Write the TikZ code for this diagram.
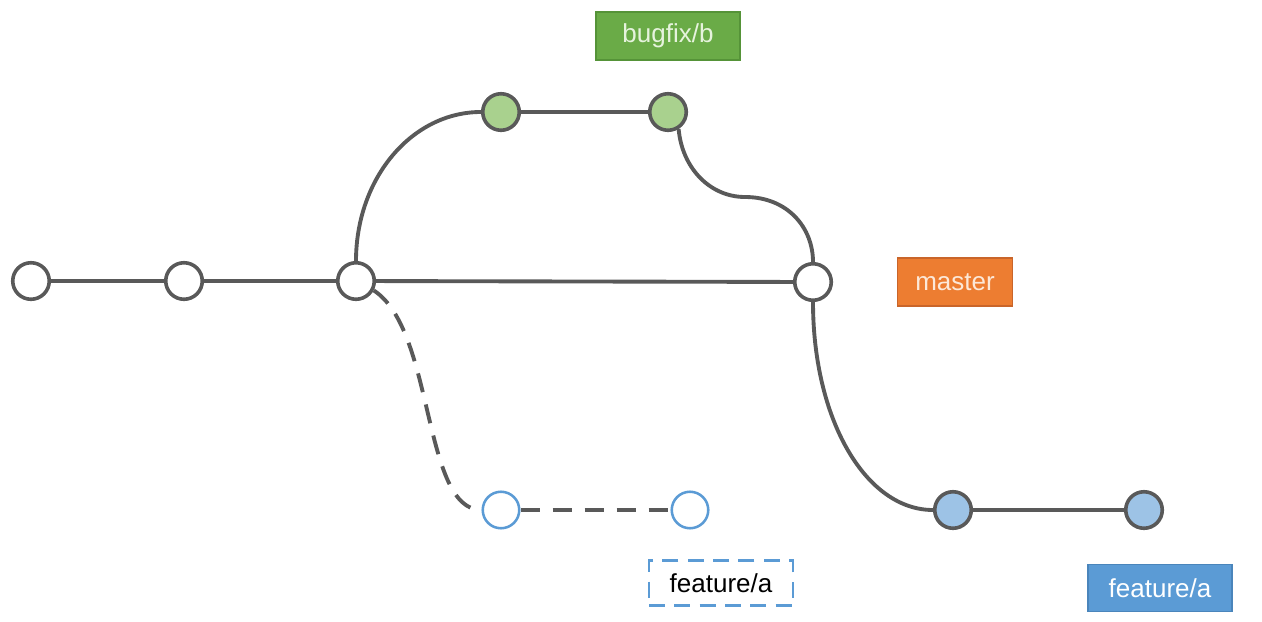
\documentclass[tikz,border=0pt]{standalone}
\usepackage{fontspec}
\setmainfont{Liberation Sans}
\definecolor{linegray}{HTML}{595959}
\definecolor{greenfill}{HTML}{A9D18E}
\definecolor{bluefill}{HTML}{9DC3E6}
\definecolor{blueline}{HTML}{5B9BD5}
\definecolor{greenlabel}{HTML}{6AAB47}
\definecolor{greenborder}{HTML}{559338}
\definecolor{orangelabel}{HTML}{ED7D31}
\definecolor{orangeborder}{HTML}{C9652A}
\definecolor{bluelabel}{HTML}{5B9BD5}
\definecolor{blueborder}{HTML}{4A85BB}
\definecolor{greentext}{HTML}{E6F3DD}
\definecolor{orangetext}{HTML}{FCE8D8}
\tikzset{
  commit/.style={circle, draw=linegray, line width=2.7pt, fill=white, minimum size=27.4pt, inner sep=0pt},
  greencommit/.style={commit, fill=greenfill},
  bluecommit/.style={commit, fill=bluefill},
  ghostcommit/.style={circle, draw=blueline, line width=1.9pt, fill=white, minimum size=27.4pt, inner sep=0pt},
  conn/.style={draw=linegray, line width=2.9pt},
  ghostconn/.style={draw=linegray, line width=2.9pt, dash pattern=on 14.5pt off 9.5pt},
  tag/.style={rectangle, inner sep=0pt, font=\fontsize{19.5}{23}\selectfont, line width=0.8pt},
}
\begin{document}
\begin{tikzpicture}[x=0.75pt, y=-0.75pt]
\useasboundingbox (0,0) rectangle (1262,621);
% commits
\node[commit] (c1) at (31,281) {};
\node[commit] (c2) at (184,281) {};
\node[commit] (c3) at (356,281) {};
\node[greencommit] (g1) at (501,112) {};
\node[greencommit] (g2) at (668,112) {};
\node[commit] (m) at (813,282) {};
\node[ghostcommit] (b1) at (501,510) {};
\node[ghostcommit] (b2) at (690,510) {};
\node[bluecommit] (f1) at (953,510) {};
\node[bluecommit] (f2) at (1144,510) {};
% connectors
\draw[conn] (c1) -- (c2);
\draw[conn] (c2) -- (c3);
\draw[conn] (c3) -- (m);
\draw[conn] (c3.north) .. controls (356,178) and (412,112) .. (g1.west);
\draw[conn] (g1) -- (g2);
\draw[conn] (g2.-58) .. controls (682,168) and (710,197) .. (745,197)
                    .. controls (788,197) and (813,228) .. (m.north);
\draw[conn] (m.south) .. controls (813,420) and (866,510) .. (f1.west);
\draw[conn] (f1) -- (f2);
\draw[ghostconn] (c3.-28) .. controls (435,330) and (422,510) .. (b1.west);
\draw[ghostconn] (b1) -- (b2);
% labels
\node[tag, fill=greenlabel, draw=greenborder, text=greentext, minimum width=108pt, minimum height=36pt] (bug) at (668,36) {bugfix/b};
\node[tag, fill=orangelabel, draw=orangeborder, text=orangetext, minimum width=86pt, minimum height=36pt] (mas) at (955,282) {master};
\node[tag, draw=blueline, line width=2.2pt, dash pattern=on 12pt off 7pt, text=black, minimum width=108pt, minimum height=34pt] (fa1) at (721,583) {feature/a};
\node[tag, fill=bluelabel, draw=blueborder, text=white, minimum width=108pt, minimum height=35pt] (fa2) at (1160,588) {feature/a};
\end{tikzpicture}
\end{document}
